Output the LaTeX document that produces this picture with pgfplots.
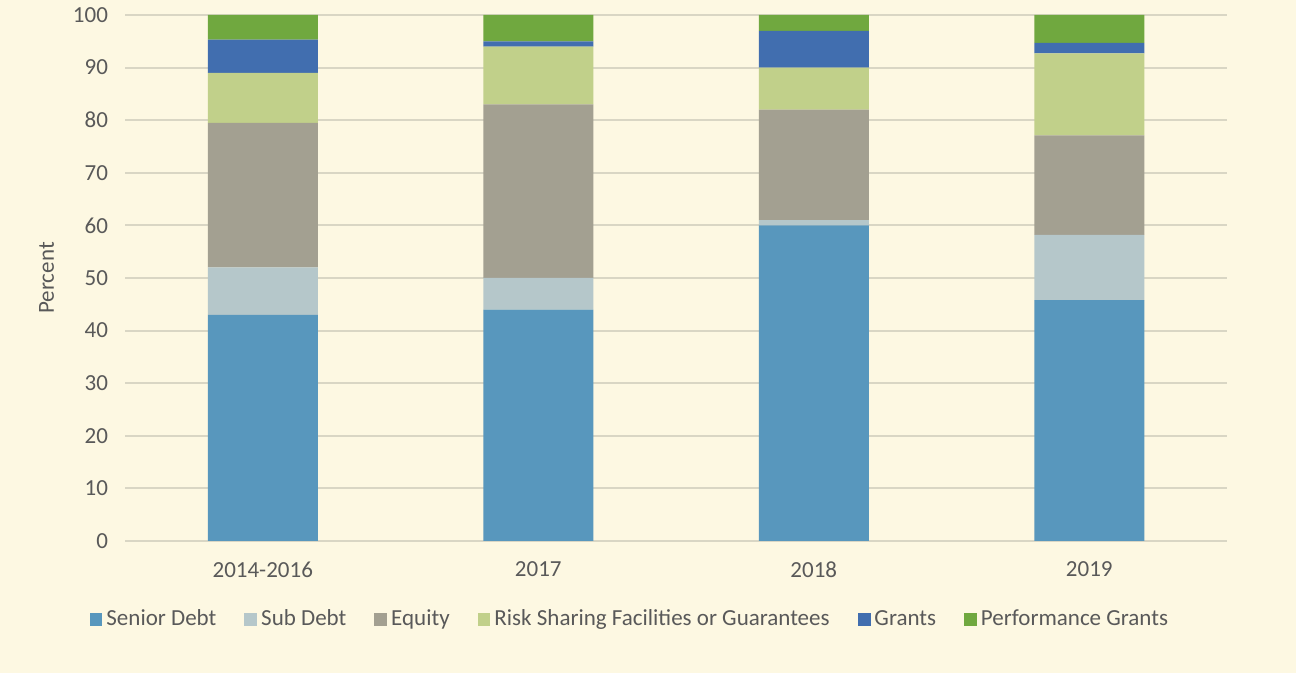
\documentclass[border=0pt]{standalone}
\usepackage{pgfplots}
\pgfplotsset{compat=1.18}
\usepackage{fontspec}
\setmainfont{Carlito}
\definecolor{bgcol}{HTML}{FDF8E2}
\definecolor{gridcol}{HTML}{D9D6C4}
\definecolor{txtcol}{HTML}{595959}
\definecolor{cSenior}{HTML}{5897BD}
\definecolor{cSub}{HTML}{B5C7CA}
\definecolor{cEquity}{HTML}{A3A091}
\definecolor{cRisk}{HTML}{C1D08A}
\definecolor{cGrants}{HTML}{416EAF}
\definecolor{cPerf}{HTML}{70A83F}
\pgfplotstableread{
x senior sub equity risk grants perf
0 43   9    27.5 9.5  6.3 4.7
1 44   6    33   11   1   5
2 60   1    21   8    7   3
3 45.8 12.4 18.9 15.6 2   5.3
}\datatable
\begin{document}
\begin{tikzpicture}
\fill[bgcol] (0,0) rectangle (648pt,336.5pt);
\begin{axis}[
  at={(62.5pt,66pt)}, anchor=south west,
  scale only axis, width=551pt, height=263pt,
  ybar stacked, bar width=55pt,
  xmin=-0.5, xmax=3.5, ymin=0, ymax=100,
  xtick={0,1,2,3},
  xticklabels={2014-2016,2017,2018,2019},
  ytick={0,10,...,100},
  ymajorgrids, grid style={gridcol, line width=1pt},
  axis line style={draw=none},
  major tick length=0pt,
  tick label style={font=\fontsize{11.5}{13}\selectfont, text=txtcol},
  /pgf/number format/assume math mode=true,
  yticklabel style={xshift=-5pt},
  xticklabel style={yshift=-7pt},
  ylabel={Percent},
  ylabel style={font=\fontsize{11.5}{13}\selectfont, text=txtcol, at={(axis description cs:-0.058,0.5)}},
  legend columns=6,
  legend style={at={(axis description cs:0.459,-0.150)}, anchor=center,
    draw=none, fill=none, font=\fontsize{11.5}{13}\selectfont, text=txtcol,
    nodes={text height=1.5ex, text depth=0.4ex},
    /tikz/every even column/.append style={column sep=12pt}},
  legend image code/.code={\fill[#1] (0pt,-3.2pt) rectangle (6.4pt,3.2pt);},
  clip=false,
]
\addplot[fill=cSenior, draw=none] table[x=x,y=senior]{\datatable};
\addplot[fill=cSub, draw=none] table[x=x,y=sub]{\datatable};
\addplot[fill=cEquity, draw=none] table[x=x,y=equity]{\datatable};
\addplot[fill=cRisk, draw=none] table[x=x,y=risk]{\datatable};
\addplot[fill=cGrants, draw=none] table[x=x,y=grants]{\datatable};
\addplot[fill=cPerf, draw=none] table[x=x,y=perf]{\datatable};
\legend{Senior Debt, Sub Debt, Equity, Risk Sharing Facilities or Guarantees, Grants, Performance Grants}
\end{axis}
\pgfresetboundingbox
\useasboundingbox (0,0) rectangle (648pt,336.5pt);
\end{tikzpicture}
\end{document}
